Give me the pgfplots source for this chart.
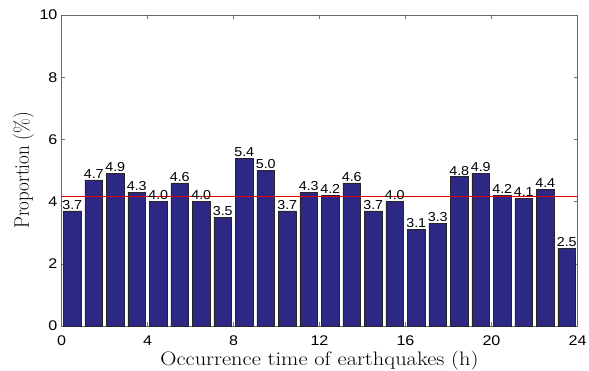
\documentclass[border=0pt]{standalone}
\usepackage{pgfplots}
\pgfplotsset{compat=1.18}
\usepackage{fontspec}
\newfontfamily\arial{Liberation Sans}
\definecolor{barblue}{RGB}{45,40,132}
\begin{document}
\begin{tikzpicture}
\begin{axis}[
  scale only axis,
  width=516bp, height=311bp,
  xmin=0, xmax=24, ymin=0, ymax=10,
  xtick={0,4,...,24}, ytick={0,2,...,10},
  tick align=inside,
  major tick length=4bp,
  tick style={black!55, line width=0.5pt},
  axis line style={black!60, line width=0.6pt},
  ticklabel style={font=\arial\fontsize{14bp}{16bp}\selectfont, xscale=1.15},
  xticklabel style={yshift=-6bp},
  /pgf/number format/assume math mode=true,
  xlabel={Occurrence time of earthquakes (h)},
  ylabel={Proportion (\%)},
  xlabel style={font=\fontsize{19.5bp}{22bp}\selectfont, xscale=1.15, yshift=1.5bp},
  ylabel style={font=\fontsize{19bp}{22bp}\selectfont, yscale=1.1, yshift=-2bp},
  clip=false,
]
\addplot[ybar, bar width=0.82, fill=barblue, draw=black!85, line width=0.6pt,
  nodes near coords,
  every node near coord/.append style={font=\arial\fontsize{13bp}{14bp}\selectfont, xscale=1.1, inner sep=1.2pt},
  /pgf/number format/.cd, fixed, fixed zerofill, precision=1, assume math mode=true]
coordinates {
(0.5,3.7) (1.5,4.7) (2.5,4.9) (3.5,4.3) (4.5,4.0) (5.5,4.6) (6.5,4.0) (7.5,3.5)
(8.5,5.4) (9.5,5.0) (10.5,3.7) (11.5,4.3) (12.5,4.2) (13.5,4.6) (14.5,3.7) (15.5,4.0)
(16.5,3.1) (17.5,3.3) (18.5,4.8) (19.5,4.9) (20.5,4.2) (21.5,4.1) (22.5,4.4) (23.5,2.5)
};
\addplot[red!90!black, line width=0.7pt] coordinates {(0,4.17) (24,4.17)};
\coordinate (bl) at (rel axis cs:0,0);
\coordinate (tr) at (rel axis cs:1,1);
\end{axis}
\pgfresetboundingbox
\path[use as bounding box] ([xshift=-61.5bp,yshift=-45bp]bl) rectangle ([xshift=11.5bp,yshift=15bp]tr);
\end{tikzpicture}
\end{document}
